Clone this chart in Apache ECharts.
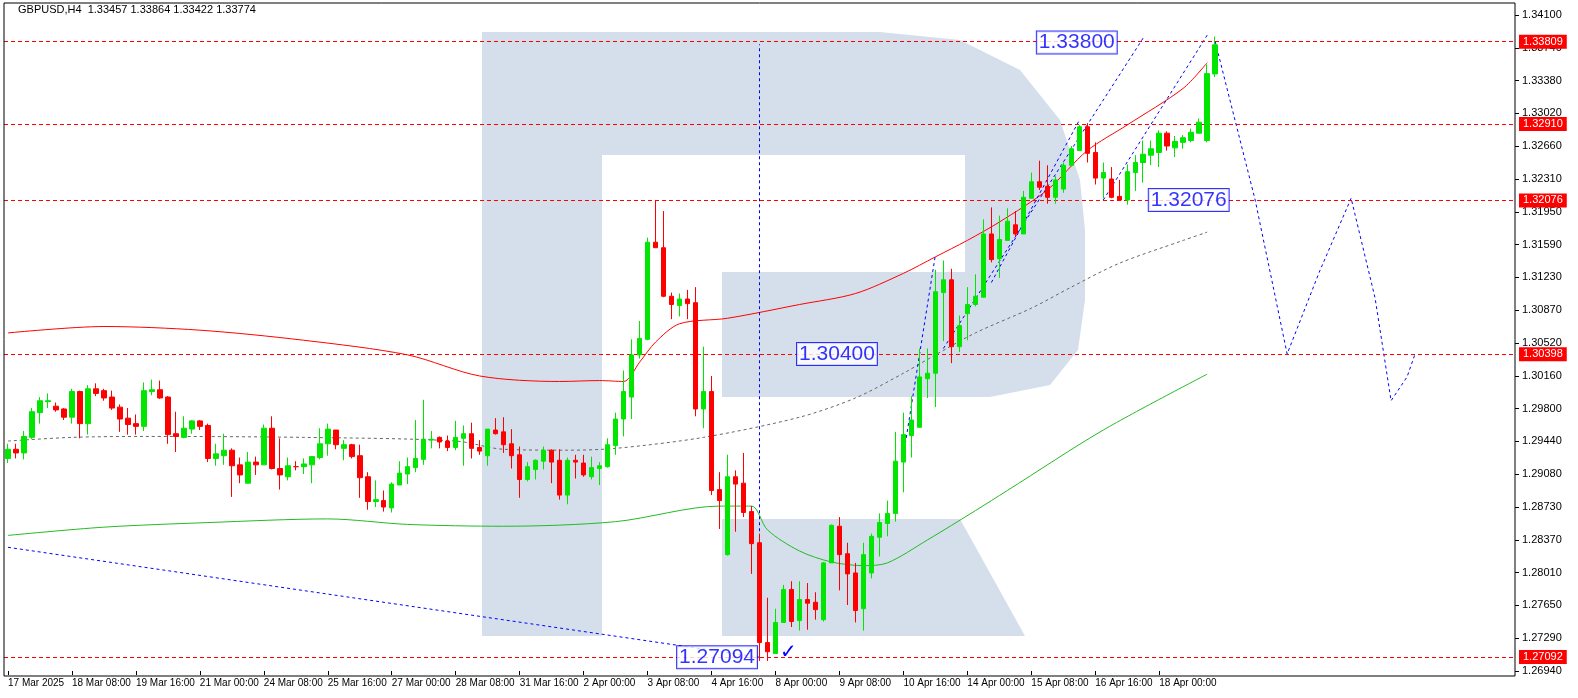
<!DOCTYPE html>
<html><head><meta charset="utf-8">
<script src="https://cdn.jsdelivr.net/npm/echarts@6/dist/echarts.min.js"></script>
<style>html,body{margin:0;padding:0;background:#fff}#c{width:1578px;height:698px}</style>
</head><body><div id="c"></div>
<script>
const opens=[1.2926,1.2936,1.2932,1.2949,1.2976,1.2988,1.2983,1.2980,1.2971,1.2999,
1.2964,1.3002,1.3000,1.2993,1.2982,1.2970,1.2964,1.2961,1.2999,1.3001,
1.2993,1.2953,1.2949,1.2958,1.2967,1.2962,1.2926,1.2929,1.2935,1.2919,
1.2899,1.2922,1.2919,1.2959,1.2915,1.2906,1.2917,1.2917,1.2919,1.2927,
1.2942,1.2957,1.2937,1.2941,1.2929,1.2906,1.2879,1.2880,1.2872,1.2897,
1.2909,1.2916,1.2925,1.2946,1.2949,1.2945,1.2938,1.2948,1.2953,1.2938,
1.2929,1.2957,1.2955,1.2942,1.2930,1.2903,1.2914,1.2923,1.2935,1.2924,
1.2886,1.2924,1.2921,1.2906,1.2915,1.2917,1.2940,1.2969,1.2993,1.3039,
1.3056,1.3162,1.3156,1.3103,1.3093,1.3100,1.3096,1.2980,1.2999,1.2892,
1.2821,1.2906,1.2899,1.2868,1.2834,1.2725,1.2713,1.2747,1.2783,1.2749,
1.2772,1.2769,1.2750,1.2812,1.2852,1.2822,1.2801,1.2762,1.2801,1.2840,
1.2855,1.2866,1.2922,1.2951,1.2960,1.3013,1.3019,1.3107,1.3121,1.3048,
1.3084,1.3094,1.3102,1.3171,1.3144,1.3164,1.3181,1.3171,1.3210,1.3228,
1.3223,1.3211,1.3220,1.3246,1.3262,1.3288,1.3260,1.3232,1.3231,1.3212,
1.3208,1.3238,1.3249,1.3257,1.3260,1.3281,1.3265,1.3271,1.3273,1.3281,
1.3273,1.33457];
const closes=[1.2936,1.2932,1.2950,1.2977,1.2989,1.2989,1.2979,1.2971,1.2999,1.2964,
1.3002,1.2997,1.2992,1.2981,1.2969,1.2963,1.2961,1.3000,1.3001,1.2992,
1.2952,1.2950,1.2959,1.2967,1.2961,1.2926,1.2931,1.2935,1.2918,1.2908,
1.2922,1.2919,1.2959,1.2915,1.2908,1.2918,1.2917,1.2920,1.2928,1.2942,
1.2958,1.2941,1.2941,1.2928,1.2905,1.2879,1.2881,1.2873,1.2898,1.2910,
1.2917,1.2926,1.2947,1.2947,1.2944,1.2938,1.2949,1.2953,1.2937,1.2934,
1.2958,1.2953,1.2941,1.2929,1.2903,1.2917,1.2924,1.2935,1.2922,1.2886,
1.2924,1.2922,1.2908,1.2916,1.2918,1.2941,1.2969,1.2999,1.3039,1.3057,
1.3162,1.3156,1.3103,1.3094,1.3100,1.3095,1.2980,1.2999,1.2891,1.2880,
1.2906,1.2898,1.2867,1.2833,1.2725,1.2715,1.2747,1.2783,1.2748,1.2772,
1.2768,1.2761,1.2812,1.2853,1.2821,1.2800,1.2760,1.2821,1.2841,1.2856,
1.2866,1.2923,1.2952,1.2968,1.3015,1.3019,1.3108,1.3121,1.3048,1.3071,
1.3094,1.3103,1.3171,1.3143,1.3165,1.3185,1.3171,1.3211,1.3228,1.3222,
1.3211,1.3230,1.3246,1.3264,1.3288,1.3259,1.3232,1.3238,1.3211,1.3208,
1.3239,1.3249,1.3258,1.3264,1.3281,1.3267,1.3272,1.3276,1.3282,1.3293,
1.3346,1.33774];
const lows=[1.2921,1.2926,1.2925,1.2947,1.2964,1.2981,1.2977,1.2968,1.2964,1.2948,
1.2952,1.2994,1.2989,1.2979,1.2955,1.2952,1.2952,1.2956,1.2995,1.2991,
1.2942,1.2933,1.2948,1.2953,1.2957,1.2922,1.2918,1.2919,1.2884,1.2899,
1.2899,1.2908,1.2919,1.2914,1.2892,1.2902,1.2913,1.2909,1.2899,1.2925,
1.2929,1.2936,1.2924,1.2926,1.2883,1.2870,1.2873,1.2868,1.2867,1.2897,
1.2898,1.2911,1.2919,1.2937,1.2937,1.2934,1.2935,1.2918,1.2926,1.2930,
1.2918,1.2952,1.2932,1.2915,1.2883,1.2901,1.2903,1.2914,1.2899,1.2881,
1.2876,1.2904,1.2906,1.2903,1.2897,1.2916,1.2930,1.2950,1.2969,1.3035,
1.3055,1.3156,1.3102,1.3078,1.3081,1.3078,1.2972,1.2959,1.2886,1.2849,
1.2820,1.2846,1.2862,1.2800,1.2705,1.2705,1.2713,1.2747,1.2742,1.2738,
1.2739,1.2750,1.2748,1.2812,1.2782,1.2766,1.2747,1.2738,1.2795,1.2819,
1.2841,1.2857,1.2889,1.2927,1.2960,1.2992,1.2982,1.3054,1.3030,1.3042,
1.3055,1.3092,1.3102,1.3140,1.3123,1.3164,1.3168,1.3171,1.3210,1.3219,
1.3204,1.3204,1.3216,1.3245,1.3262,1.3249,1.3225,1.3210,1.3210,1.3207,
1.3203,1.3218,1.3227,1.3246,1.3244,1.3262,1.3255,1.3264,1.3271,1.3281,
1.3271,1.33422];
const highs=[1.2942,1.2942,1.2956,1.2981,1.2993,1.2997,1.2987,1.2981,1.3002,1.3000,
1.3006,1.3008,1.3002,1.3000,1.2985,1.2981,1.2974,1.3009,1.3012,1.3011,
1.2994,1.2977,1.2972,1.2968,1.2968,1.2964,1.2942,1.2953,1.2937,1.2927,
1.2933,1.2928,1.2963,1.2972,1.2948,1.2927,1.2923,1.2926,1.2928,1.2959,
1.2964,1.2957,1.2946,1.2942,1.2941,1.2911,1.2902,1.2891,1.2900,1.2923,
1.2927,1.2968,1.2990,1.2956,1.2950,1.2951,1.2967,1.2962,1.2965,1.2946,
1.2958,1.2970,1.2971,1.2958,1.2939,1.2922,1.2925,1.2939,1.2936,1.2936,
1.2927,1.2930,1.2930,1.2928,1.2922,1.2948,1.2976,1.3022,1.3056,1.3076,
1.3167,1.3208,1.3196,1.3107,1.3106,1.3110,1.3113,1.3048,1.3016,1.2911,
1.2930,1.2913,1.2932,1.2874,1.2844,1.2774,1.2762,1.2788,1.2792,1.2792,
1.2790,1.2780,1.2813,1.2854,1.2862,1.2834,1.2812,1.2834,1.2844,1.2866,
1.2880,1.2955,1.2976,1.2994,1.3046,1.3046,1.3132,1.3142,1.3133,1.3082,
1.3113,1.3127,1.3187,1.3200,1.3191,1.3199,1.3196,1.3218,1.3238,1.3251,
1.3246,1.3234,1.3249,1.3267,1.3290,1.3292,1.3271,1.3249,1.3244,1.3230,
1.3247,1.3257,1.3273,1.3273,1.3284,1.3283,1.3278,1.3279,1.3286,1.3297,
1.3356,1.33864];
const redMA=[[0,1.3063],[12,1.3070],[24,1.3066],[37,1.3055],[50,1.3039],[59,1.3016],[69,1.3010],[74,1.3011],[77,1.3010],[79,1.3031],[81,1.3053],[84,1.3073],[90,1.3079],[99,1.3094],[106,1.3106],[112,1.3128],[116,1.3146],[120,1.3164],[124,1.3184],[130,1.3219],[135,1.3262],[140,1.3290],[147,1.3330],[150,1.3358]];
const greyMA=[[0,1.2945],[8,1.2949],[17,1.2950],[37,1.2949],[56,1.2945],[62,1.2936],[70,1.2935],[76,1.2937],[87,1.2949],[99,1.2971],[106,1.2992],[112,1.3019],[116,1.3039],[121,1.3063],[128,1.3090],[133,1.3113],[139,1.3139],[147,1.3164],[150,1.3173]];
const greenMA=[[0,1.2842],[12,1.2851],[25,1.2856],[40,1.2860],[50,1.2854],[62,1.2852],[76,1.2857],[89,1.2874],[93,1.2874],[95,1.2848],[99,1.2825],[103,1.2813],[107,1.2809],[110,1.2812],[115,1.2837],[121,1.2869],[125,1.2891],[137,1.2957],[150,1.3018]];
const forecast=[[151,1.3381],[156,1.3208],[160,1.3040],[164,1.3129],[168,1.3210],[171,1.3101],[173,1.2989],[175,1.3015],[176,1.3040]];
const levels=[1.33809,1.32910,1.32076,1.30398,1.27092];
const tickLabels=['1.26940','1.27290','1.27650','1.28010','1.28370','1.28730','1.29080','1.29440','1.29800','1.30160','1.30520','1.30870','1.31230','1.31590','1.31950','1.32310','1.32660','1.33020','1.33380','1.33740','1.34100'];
const xLabels={0:'17 Mar 2025',8:'18 Mar 08:00',16:'19 Mar 16:00',24:'21 Mar 00:00',32:'24 Mar 08:00',40:'25 Mar 16:00',48:'27 Mar 00:00',56:'28 Mar 08:00',64:'31 Mar 16:00',72:'2 Apr 00:00',80:'3 Apr 08:00',88:'4 Apr 16:00',96:'8 Apr 00:00',104:'9 Apr 08:00',112:'10 Apr 16:00',120:'14 Apr 00:00',128:'15 Apr 08:00',136:'16 Apr 16:00',144:'18 Apr 00:00'};
const boxes=[[94,1.2709,'1.27094'],[109,1.3040,'1.30400'],[139,1.3380,'1.33800'],[153,1.3208,'1.32076']];
const NCAT=189;
const cats=[];for(let i=0;i<NCAT;i++)cats.push(String(i));
const candle=opens.map((o,i)=>[o,closes[i],lows[i],highs[i]]);
const yMin=1.2694,yMax=1.341,yInt=(yMax-yMin)/20;
const blue='#0000ff';
const dash=(pts)=>({type:'line',data:pts,symbol:'none',silent:true,lineStyle:{color:blue,width:1,type:[3,3]},z:4});
const sh='#d5dfeb';
const bowl=[[602,32],[880,32],[960,40],[1020,70],[1060,120],[1080,180],[1085,230],[1085,300],[1078,350],[1050,385],[990,397],[722,397],[722,272],[965,272],[965,155],[602,155]];
const F='Liberation Sans';
const chart=echarts.init(document.getElementById('c'));
chart.setOption({
 animation:false,
 textStyle:{fontFamily:F},
 grid:{left:4,right:63,top:15,bottom:27},
 graphic:[
  {type:'rect',shape:{x:482,y:32,width:120,height:604},style:{fill:sh},z:-10},
  {type:'polygon',shape:{points:bowl},style:{fill:sh},z:-10},
  {type:'polygon',shape:{points:[[722,519],[960,519],[1025,636],[722,636]]},style:{fill:sh},z:-10},
  {type:'rect',shape:{x:4,y:3,width:1511,height:673},style:{fill:'none',stroke:'#000',lineWidth:1},z:10},
  {type:'text',x:18,y:4,style:{text:'GBPUSD,H4  1.33457 1.33864 1.33422 1.33774',font:'11px Liberation Sans',fill:'#000'},z:10},
  {type:'text',x:780,y:643,style:{text:'✓',font:'bold 20px DejaVu Sans',fill:blue},z:10}
 ],
 xAxis:{type:'category',data:cats,boundaryGap:true,
  axisLine:{show:false},
  axisTick:{show:true,interval:(i)=>xLabels[i]!==undefined,length:4,lineStyle:{color:'#000'},alignWithLabel:true},
  axisLabel:{interval:(i)=>xLabels[i]!==undefined,hideOverlap:false,formatter:(v)=>xLabels[+v]||'',align:'left',color:'#000',fontSize:10,margin:7,fontFamily:F},
  splitLine:{show:false}},
 yAxis:{type:'value',position:'right',min:yMin,max:yMax,interval:yInt,
  axisLine:{show:false},axisTick:{show:true,length:4,lineStyle:{color:'#000'}},
  axisLabel:{color:'#000',fontSize:11,margin:7,fontFamily:F,formatter:(v)=>tickLabels[Math.round((v-yMin)/yInt)]||''},
  splitLine:{show:false}},
 series:[
  {type:'candlestick',data:candle,barWidth:5,z:5,
   itemStyle:{color:'#00e600',color0:'#ff0000',borderColor:'#00e600',borderColor0:'#ff0000',borderWidth:1},
   markLine:{symbol:'none',silent:true,precision:5,
    lineStyle:{color:'#ff0000',type:[4,3],width:1},
    label:{position:'end',distance:4,formatter:(p)=>Number(p.value).toFixed(5),backgroundColor:'#ff0000',color:'#fff',fontSize:11,fontFamily:F,padding:[2,4,1,4]},
    data:levels.map(v=>({yAxis:v}))}},
  {type:'line',data:redMA,symbol:'none',smooth:0.3,silent:true,lineStyle:{color:'#ff0000',width:1},z:3},
  {type:'line',data:greyMA,symbol:'none',smooth:0.3,silent:true,lineStyle:{color:'#666',width:1,type:[3,3]},z:3},
  {type:'line',data:greenMA,symbol:'none',smooth:0.3,silent:true,lineStyle:{color:'#22bb22',width:1},z:3},
  dash(forecast),
  dash([[0,1.2829],[94,1.2709]]),
  dash([[94,1.2709],[94,1.3378]]),
  dash([[112,1.2929],[116,1.3148]]),
  dash([[117,1.3046],[142,1.3385]]),
  dash([[123,1.3118],[134,1.3295]]),
  dash([[137,1.3208],[150,1.3388]]),
  {type:'scatter',symbolSize:1,silent:true,z:8,itemStyle:{color:'rgba(0,0,0,0)'},
   data:boxes.map(b=>({value:[b[0],b[1]],label:{show:true,formatter:b[2],position:'left',distance:2,fontSize:21,color:blue,backgroundColor:'#fff',borderColor:blue,borderWidth:1,padding:[1,2,0,2],fontFamily:F}}))}
 ]
});
</script></body></html>
